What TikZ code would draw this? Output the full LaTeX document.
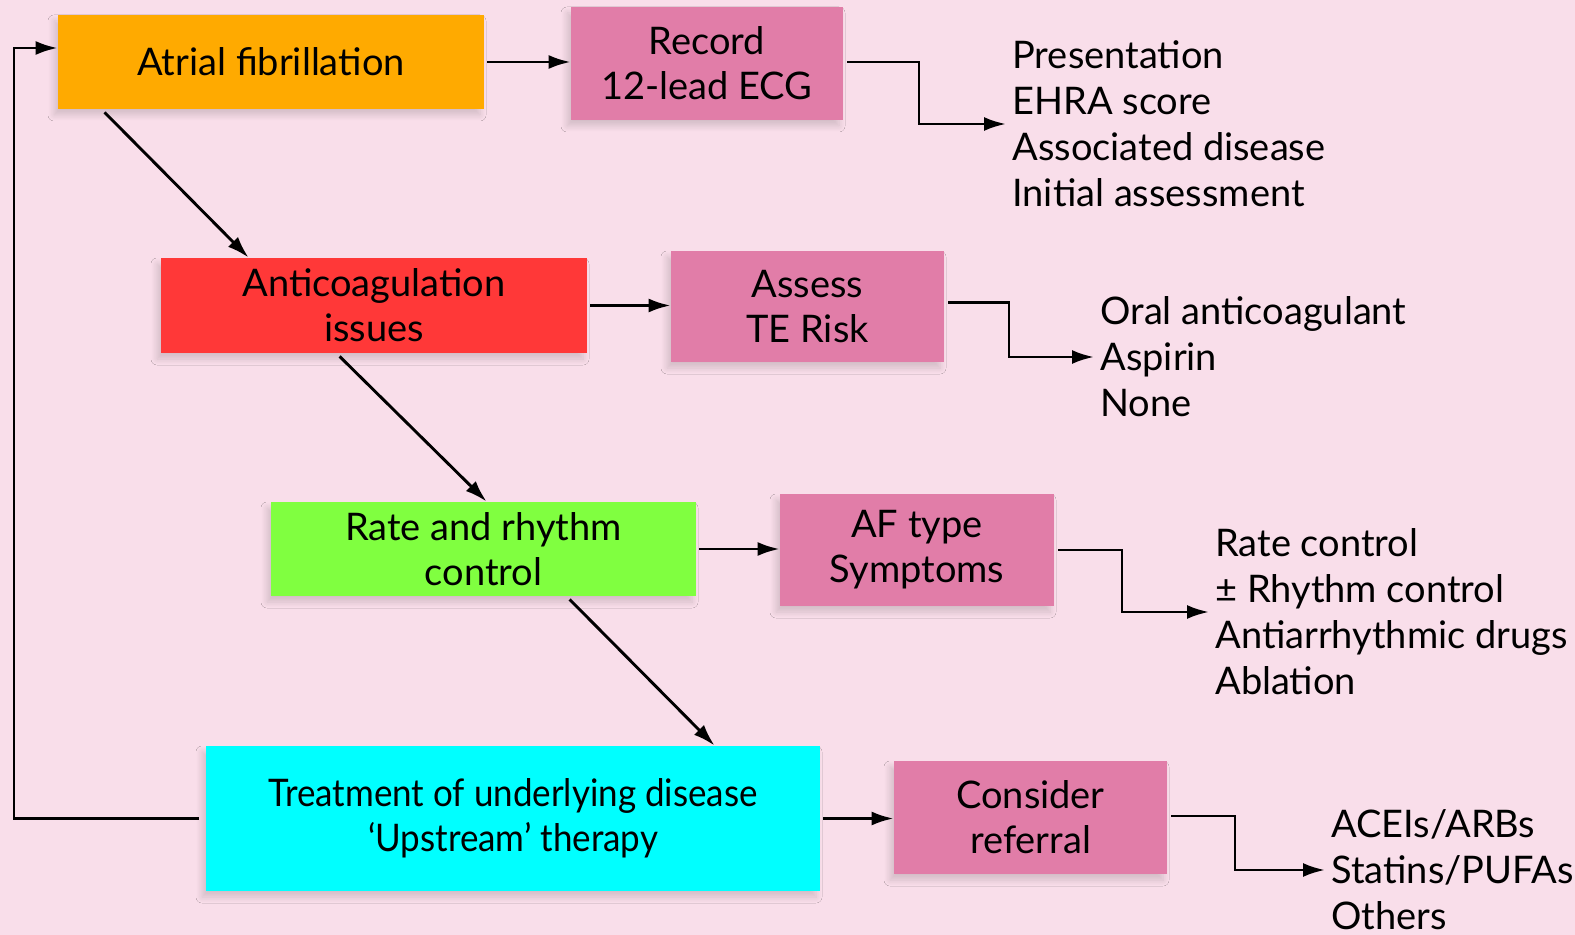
\documentclass[tikz,border=0pt]{standalone}
\usepackage{fontspec}
\setmainfont{Lato}
\newfontfamily\narrowfont[FakeStretch=0.92,Ligatures=TeX]{Lato}
\usetikzlibrary{arrows.meta,calc,shadows.blur}
\definecolor{bgpink}{HTML}{F9DEEA}
\definecolor{boxorange}{HTML}{FFAA00}
\definecolor{boxred}{HTML}{FF3838}
\definecolor{boxpink}{HTML}{E17DA8}
\definecolor{boxgreen}{HTML}{80FF40}
\definecolor{boxcyan}{HTML}{00FFFF}
\tikzset{
  box/.style={rectangle, align=center, inner sep=0pt, font=\fontsize{19}{22.5}\selectfont,
    blur shadow={shadow xshift=-2pt, shadow yshift=-3pt, shadow opacity=15, shadow blur radius=3pt, shadow blur steps=10}},
  lst/.style={anchor=west, align=left, inner sep=3pt, font=\fontsize{19}{23}\selectfont},
  arr/.style={-{Latex[length=11pt,width=7pt]}, line width=1.45pt},
}
\begin{document}
\begin{tikzpicture}[x=0.5pt,y=-0.5pt]
\fill[bgpink] (0,0) rectangle (1575,935);
\useasboundingbox (0,0) rectangle (1575,935);

\node[box, fill=boxorange, minimum width=213pt, minimum height=47pt] (af) at (271,62) {Atrial fibrillation};
\node[box, fill=boxpink, minimum width=136pt, minimum height=56.5pt] (rec) at (707,63.5) {Record\\12-lead ECG};
\node[box, fill=boxred, minimum width=213pt, minimum height=47.5pt] (ac) at (374,305.5) {Anticoagulation\\issues};
\node[box, fill=boxpink, minimum width=136.5pt, minimum height=55.5pt] (te) at (807.5,306.5) {Assess\\TE Risk};
\node[box, fill=boxgreen, minimum width=212.5pt, minimum height=47pt] (rr) at (483.5,549) {Rate and rhythm\\control};
\node[box, fill=boxpink, minimum width=137pt, minimum height=56pt] (at) at (917,550) {AF type\\Symptoms};
\node[box, fill=boxcyan, minimum width=307pt, minimum height=72.5pt] (tr) at (513,818.5) {\narrowfont Treatment of underlying disease\\\narrowfont ‘Upstream’ therapy};
\node[box, fill=boxpink, minimum width=136.5pt, minimum height=56.5pt] (cr) at (1030.5,817.5) {Consider\\referral};

\node[lst] (l1) at (1006,124) {Presentation\\EHRA score\\Associated disease\\Initial assessment};
\node[lst] (l2) at (1094,357) {Oral anticoagulant\\Aspirin\\None};
\node[lst] (l3) at (1209,612) {Rate control\\± Rhythm control\\Antiarrhythmic drugs\\Ablation};
\node[lst] (l4) at (1325,870) {ACEIs/ARBs\\Statins/PUFAs\\Others};

\draw[arr, shorten <=1.5pt] (af.east) -- (af.east -| rec.west);
\draw[arr, shorten <=1.5pt] (ac.east) -- (ac.east -| te.west);
\draw[arr, shorten <=1.5pt] (rr.east) -- (rr.east -| at.west);
\draw[arr, shorten <=1.5pt] (tr.east) -- (tr.east -| cr.west);

\coordinate (b1) at (919,0);
\coordinate (b2) at (1009,0);
\coordinate (b3) at (1122,0);
\coordinate (b4) at (1235,0);
\draw[arr, shorten <=2pt] ([yshift=0.75pt]rec.east) -| (b1 |- l1.west) -- (l1.west);
\draw[arr, shorten <=2pt] ([yshift=2pt]te.east) -| (b2 |- l2.west) -- (l2.west);
\draw[arr, shorten <=2pt] (at.east) -| (b3 |- l3.west) -- (l3.west);
\draw[arr, shorten <=2pt] ([yshift=0.75pt]cr.east) -| (b4 |- l4.west) -- (l4.west);

\draw[arr] ($(af.south west)+(47,3)$) -- ($(ac.north west)+(88,0)$);
\draw[arr] ($(ac.south west)+(179,3)$) -- ($(rr.north west)+(216,0)$);
\draw[arr] ($(rr.south west)+(299,3)$) -- ($(tr.north west)+(509,0)$);

\coordinate (fb) at (14,48);
\draw[arr] ([xshift=-3.5pt]tr.west) -| (fb) -- (fb -| af.west);
\end{tikzpicture}
\end{document}
